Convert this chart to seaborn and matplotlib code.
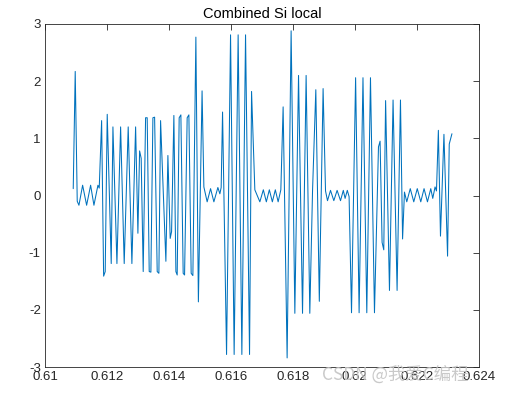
import numpy as np
import pandas as pd
import matplotlib
matplotlib.use("Agg")
import matplotlib.pyplot as plt
import seaborn as sns

# tempo (s) e amplitude
tempo = [
    0.610913, 0.610977, 0.611042, 0.611097, 0.611216, 0.611345, 0.611474, 0.611581,
    0.611710, 0.611752, 0.611829, 0.611894, 0.611945, 0.612010, 0.612139, 0.612194,
    0.612323, 0.612442, 0.612558, 0.612687, 0.612806, 0.612926, 0.613000, 0.613055,
    0.613106, 0.613171, 0.613248, 0.613300, 0.613365, 0.613419, 0.613484, 0.613539,
    0.613623, 0.613677, 0.613732, 0.613903, 0.613968, 0.614042, 0.614087, 0.614161,
    0.614226, 0.614268, 0.614332, 0.614387, 0.614461, 0.614506, 0.614590, 0.614645,
    0.614719, 0.614774, 0.614871, 0.614952, 0.615071, 0.615129, 0.615235, 0.615345,
    0.615452, 0.615581, 0.615645, 0.615687, 0.615732, 0.615861, 0.615990, 0.616106,
    0.616235, 0.616355, 0.616474, 0.616603, 0.616668, 0.616774, 0.616936, 0.617048,
    0.617145, 0.617242, 0.617339, 0.617435, 0.617526, 0.617613, 0.617687, 0.617816,
    0.617945, 0.618065, 0.618184, 0.618313, 0.618429, 0.618548, 0.618636, 0.618742,
    0.618855, 0.618977, 0.619055, 0.619119, 0.619216, 0.619323, 0.619429, 0.619539,
    0.619629, 0.619687, 0.619758, 0.619816, 0.619894, 0.620026, 0.620139, 0.620264,
    0.620387, 0.620506, 0.620635, 0.620764, 0.620816, 0.620881, 0.620935, 0.620994,
    0.621119, 0.621235, 0.621365, 0.621474, 0.621542, 0.621603, 0.621677, 0.621790,
    0.621903, 0.622016, 0.622129, 0.622235, 0.622345, 0.622452, 0.622516, 0.622590,
    0.622636, 0.622697, 0.622765, 0.622877, 0.622994, 0.623048, 0.623135,
]
sinal = [
    0.12, 2.17, -0.10, -0.17, 0.18, -0.17, 0.18, -0.17,
    0.18, 0.13, 1.31, -1.41, -1.33, 1.42, -1.19, 1.20,
    -1.19, 1.20, -1.19, 1.20, -1.19, 1.20, -0.66, 0.78,
    0.65, -1.33, 1.36, 1.36, -1.33, -1.34, 1.36, 1.37,
    -1.33, -1.36, 1.31, -1.15, 0.70, -0.75, -0.63, 1.40,
    -1.33, -1.39, 1.36, 1.41, -1.36, -1.39, 1.36, 1.41,
    -1.36, -1.40, 2.77, -1.86, 1.83, 0.15, -0.11, 0.12,
    -0.11, 0.14, 0.03, 0.14, 1.46, -2.78, 2.81, -2.78,
    2.81, -2.78, 2.81, -2.78, 1.82, 0.10, -0.11, 0.10,
    -0.11, 0.10, -0.11, 0.10, -0.11, 0.10, 1.55, -2.84,
    2.88, -2.06, 2.10, -2.06, 2.10, -2.06, 0.08, 1.85,
    -1.85, 1.87, 0.08, -0.09, 0.09, -0.09, 0.09, -0.09,
    0.09, -0.05, 0.09, -0.02, -2.05, 2.06, -2.05, 2.06,
    -2.05, 2.06, -2.05, 0.85, 0.95, -0.82, -0.95, 1.66,
    -1.66, 1.67, -1.66, 1.67, -0.76, 0.06, -0.11, 0.12,
    -0.11, 0.12, -0.11, 0.12, -0.11, 0.12, -0.05, 0.15,
    0.08, 1.14, -0.71, 1.07, -1.06, 0.90, 1.08,
]
xticks = [0.61, 0.612, 0.614, 0.616, 0.618, 0.62, 0.622, 0.624]
xtick_labels = ['0.61', '0.612', '0.614', '0.616', '0.618', '0.62', '0.622', '0.624']
yticks = [-3, -2, -1, 0, 1, 2, 3]

df = pd.DataFrame({'t': tempo, 'y': sinal})

sns.set_style("white")
plt.rcParams['font.family'] = ['Liberation Sans', 'DejaVu Sans']
plt.rcParams['axes.unicode_minus'] = False
plt.rcParams['xtick.direction'] = 'in'
plt.rcParams['ytick.direction'] = 'in'

fig = plt.figure(figsize=(5.05, 3.93), dpi=100)
ax = fig.add_axes([0.089, 0.066, 0.859, 0.873])

sns.lineplot(data=df, x='t', y='y', estimator=None, sort=False,
             color='#0072BD', linewidth=0.75, ax=ax)

ax.set_xlim(0.61, 0.624)
ax.set_ylim(-3, 3)
ax.set_xticks(xticks)
ax.set_xticklabels(xtick_labels)
ax.set_yticks(yticks)
ax.tick_params(axis='both', labelsize=9.5, colors='#262626', length=4, width=0.6,
               top=True, right=True, pad=3)
for s in ax.spines.values():
    s.set_color('#262626')
    s.set_linewidth(0.6)
ax.set_xlabel('')
ax.set_ylabel('')
ax.set_title('Combined Si local', fontsize=10.5, color='#000000', pad=4)

fig.text(0.638, 0.048, 'CSDN @我爱C编程', fontsize=12.5, color='#c4c4c4', alpha=0.9,
         family=['Noto Sans CJK SC', 'DejaVu Sans'], va='center')

fig.savefig('out.png', dpi=100)
